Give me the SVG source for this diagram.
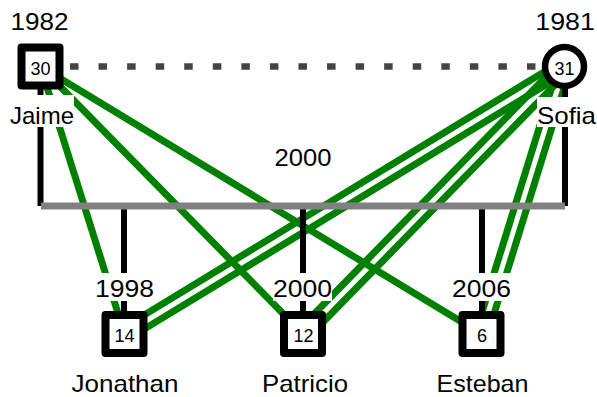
<svg xmlns="http://www.w3.org/2000/svg" width="597" height="397" viewBox="0 0 597 397">
<style>
.bg{fill:#ffffff}
.rel{stroke:#008000;stroke-width:7;fill:none}
.fam{stroke:#000000;stroke-width:6;fill:none}
.bar{stroke:#808080;stroke-width:7;fill:none}
.dot{stroke:#444444;stroke-width:6.5;stroke-dasharray:8.5 20.06;fill:none}
.node{fill:#ffffff;stroke:#000000;stroke-width:8;stroke-linejoin:round}
.circ{fill:#ffffff;stroke:#000000;stroke-width:6.5}
.lbl{font-family:"Liberation Sans",Arial,sans-serif;font-size:24px;fill:#000000;text-anchor:middle}
.num{font-family:"Liberation Sans",Arial,sans-serif;font-size:18px;fill:#000000;text-anchor:middle}
</style>
<rect class="bg" x="0" y="0" width="597" height="397"/>
<g id="connectors">
  <line class="dot" x1="70" y1="66.5" x2="537" y2="66.5"/>
  <line class="rel" x1="40.5" y1="66.5" x2="124.5" y2="334"/>
  <line class="rel" x1="40.5" y1="66.5" x2="303" y2="334"/>
  <line class="rel" x1="40.5" y1="66.5" x2="481.5" y2="334"/>
  <line class="rel" x1="561.38" y1="61.37" x2="121.38" y2="328.87"/>
  <line class="rel" x1="567.62" y1="71.63" x2="127.62" y2="339.13"/>
  <line class="rel" x1="560.21" y1="62.31" x2="298.71" y2="329.81"/>
  <line class="rel" x1="568.79" y1="70.69" x2="307.29" y2="338.19"/>
  <line class="rel" x1="558.77" y1="64.72" x2="475.77" y2="332.22"/>
  <line class="rel" x1="570.23" y1="68.28" x2="487.23" y2="335.78"/>
  <line class="fam" x1="40.5" y1="80" x2="40.5" y2="206"/>
  <line class="fam" x1="565" y1="80" x2="565" y2="206"/>
  <line class="fam" x1="124" y1="206" x2="124" y2="320"/>
  <line class="fam" x1="303" y1="206" x2="303" y2="320"/>
  <line class="fam" x1="482" y1="206" x2="482" y2="320"/>
  <line class="bar" x1="41" y1="206" x2="565" y2="206"/>
</g>
<g id="jaime">
  <rect class="node" x="21.5" y="47.5" width="38" height="38"/>
  <text class="num" x="40.5" y="74.5">30</text>
  <rect class="bg" x="10" y="95" width="64" height="32"/>
  <text class="lbl" x="42" y="124" textLength="64" lengthAdjust="spacingAndGlyphs">Jaime</text>
  <text class="lbl" x="39.5" y="29.5" textLength="58" lengthAdjust="spacingAndGlyphs">1982</text>
</g>
<g id="sofia">
  <circle class="circ" cx="564.5" cy="66.5" r="19.5"/>
  <text class="num" x="564.5" y="74.5">31</text>
  <rect class="bg" x="537" y="97" width="60" height="30"/>
  <text class="lbl" x="566.5" y="123.5" textLength="59" lengthAdjust="spacingAndGlyphs">Sofia</text>
  <text class="lbl" x="565" y="30" textLength="59.5" lengthAdjust="spacingAndGlyphs">1981</text>
</g>
<g id="union">
  <text class="lbl" x="303" y="166" textLength="57" lengthAdjust="spacingAndGlyphs">2000</text>
</g>
<g id="jonathan">
  <rect class="bg" x="95" y="273" width="59" height="28"/>
  <text class="lbl" x="124.5" y="297" textLength="59" lengthAdjust="spacingAndGlyphs">1998</text>
  <rect class="node" x="105.5" y="315" width="38" height="38"/>
  <text class="num" x="124.5" y="341.5">14</text>
  <text class="lbl" x="125" y="392" textLength="107" lengthAdjust="spacingAndGlyphs">Jonathan</text>
</g>
<g id="patricio">
  <rect class="bg" x="273" y="273" width="59" height="28"/>
  <text class="lbl" x="302.5" y="297" textLength="59" lengthAdjust="spacingAndGlyphs">2000</text>
  <rect class="node" x="284" y="315" width="38" height="38"/>
  <text class="num" x="303.5" y="341.5">12</text>
  <text class="lbl" x="305" y="392" textLength="86" lengthAdjust="spacingAndGlyphs">Patricio</text>
</g>
<g id="esteban">
  <rect class="bg" x="452" y="273" width="59" height="28"/>
  <text class="lbl" x="481.5" y="297" textLength="59" lengthAdjust="spacingAndGlyphs">2006</text>
  <rect class="node" x="462.5" y="315" width="38" height="38"/>
  <text class="num" x="482" y="341.5">6</text>
  <text class="lbl" x="482.5" y="392" textLength="92" lengthAdjust="spacingAndGlyphs">Esteban</text>
</g>
</svg>
